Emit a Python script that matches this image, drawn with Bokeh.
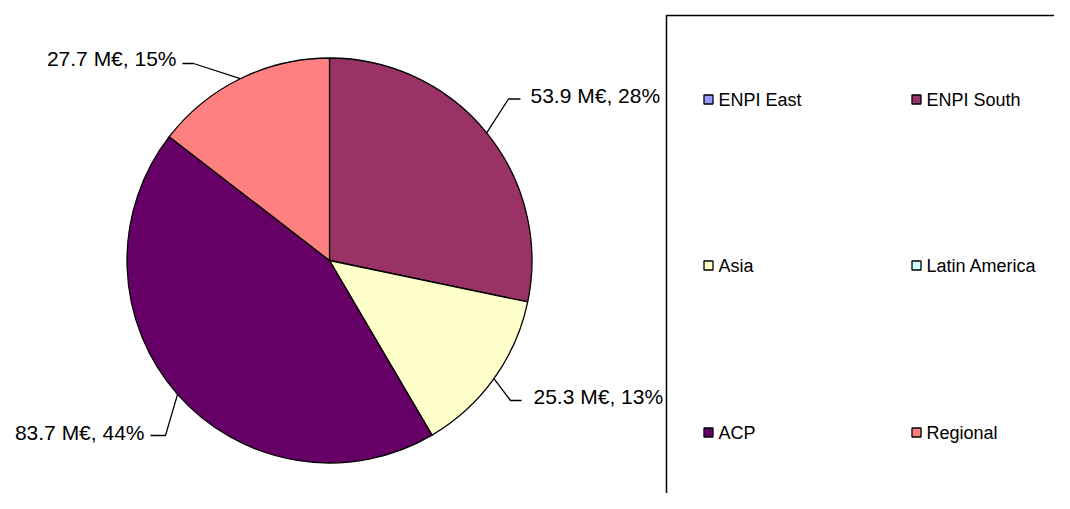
from bokeh.plotting import figure
from bokeh.models import Range1d, ColumnDataSource
from bokeh.embed import file_html
from bokeh.resources import INLINE
from bokeh.core.properties import value
import math

# ---- data ----
categories = ["ENPI East", "ENPI South", "Asia", "Latin America", "ACP", "Regional"]
amounts = [0.0, 53.9, 25.3, 0.0, 83.7, 27.7]   # M€
colors = ["#9999FF", "#993366", "#FFFFCC", "#CCFFFF", "#660066", "#FF8080"]

W, H = 1054, 493
FONT = "Liberation Sans"

def sx(x):
    return x

def sy(y):
    return H - y

p = figure(width=W, height=H, output_backend="svg", toolbar_location=None,
           x_range=Range1d(0, W), y_range=Range1d(0, H), min_border=0,
           outline_line_color=None)
p.axis.visible = False
p.grid.visible = False

cx, cy, r = sx(329), sy(260), 202.5
total = sum(amounts)

# wedges (clockwise from 12 o'clock)
starts, ends, cols, mids, labels = [], [], [], [], []
acc = 0.0
for c, v, col in zip(categories, amounts, colors):
    if v <= 0:
        continue
    a0 = math.pi / 2 - 2 * math.pi * acc / total
    acc += v
    a1 = math.pi / 2 - 2 * math.pi * acc / total
    starts.append(a0); ends.append(a1); cols.append(col)
    mids.append((a0 + a1) / 2)
    labels.append(f"{v:.1f} M€, {round(100 * v / total)}%")

src = ColumnDataSource(dict(start=starts, end=ends, color=cols))
p.wedge(x=cx, y=cy, radius=r, start_angle="start", end_angle="end",
        direction="clock", fill_color="color", line_color="black",
        line_width=1.3, source=src)

# label layout: elbow (screen), leader end x, text anchor (screen), align
layout = [
    ((508, 98.5), 520, (530, 95), "left"),
    ((510, 400), 521, (533, 396), "left"),
    ((165, 435), 150, (144, 432), "right"),
    ((193, 63), 182, (176, 57.5), "right"),
]
for m, lab, (elb, endx, tpos, al) in zip(mids, labels, layout):
    ex, ey = cx + r * math.cos(m), cy + r * math.sin(m)
    p.line([ex, sx(elb[0]), sx(endx)], [ey, sy(elb[1]), sy(elb[1])],
           line_color="black", line_width=1.3)
    p.text(x=[sx(tpos[0])], y=[sy(tpos[1])], text=[lab], text_align=al,
           text_baseline="middle", text_font=value(FONT),
           text_font_size="21px", text_color="black")

# legend box
p.quad(left=[sx(666)], right=[sx(1100)], top=[sy(15)], bottom=[sy(540)],
       fill_color=None, line_color="black", line_width=1.5)

col_x = [703, 911]
row_y = [99, 265, 432]
lx, ly, tx = [], [], []
for i, c in enumerate(categories):
    ci, ri = i % 2, i // 2
    lx.append(sx(col_x[ci] + 5))
    ly.append(sy(row_y[ri]))
    tx.append(sx(col_x[ci] + 15))
p.rect(x=lx, y=ly, width=9, height=9, fill_color=colors,
       line_color="black", line_width=1.3)
p.text(x=tx, y=ly, text=categories, text_align="left", text_baseline="middle",
       text_font=value(FONT), text_font_size="18px", text_color="black")

open("out.html", "w").write(file_html(p, INLINE))
